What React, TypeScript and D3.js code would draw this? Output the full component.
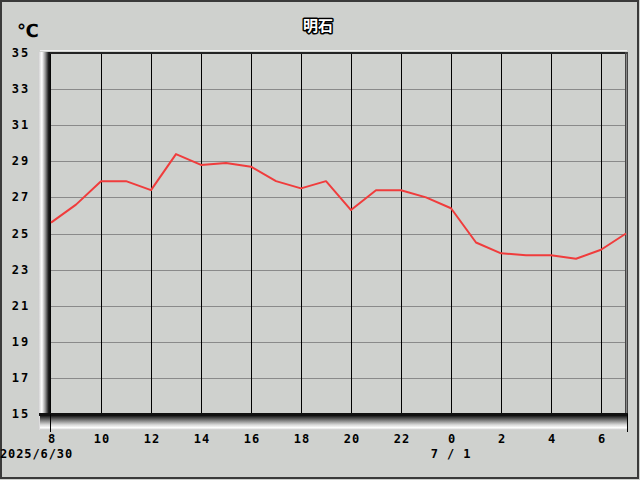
import React from "react";
import * as d3 from "d3";

const hours = [8, 9, 10, 11, 12, 13, 14, 15, 16, 17, 18, 19, 20, 21, 22, 23, 24, 25, 26, 27, 28, 29, 30, 31];
const temps = [25.6, 26.6, 27.9, 27.9, 27.4, 29.4, 28.8, 28.9, 28.7, 27.9, 27.5, 27.9, 26.3, 27.4, 27.4, 27.0, 26.4, 24.5, 23.9, 23.8, 23.8, 23.6, 24.1, 25.0];
const yTicks = [15, 17, 19, 21, 23, 25, 27, 29, 31, 33, 35];
const xTicks = [8, 10, 12, 14, 16, 18, 20, 22, 24, 26, 28, 30];
const xTickLabels = ["8", "10", "12", "14", "16", "18", "20", "22", "0", "2", "4", "6"];
const title = "明石";
const unit = "℃";
const dateLabels = [{ h: 8, text: "2025/6/30" }, { h: 24, text: "7 / 1" }];

const W = 640, H = 480;
const L = 51, R = 626, T = 53, B = 414;

export default function App() {
  const x = d3.scaleLinear().domain([8, 31]).range([L, R]);
  const y = d3.scaleLinear().domain([15, 35]).range([B, T]);
  const line = d3.line<number>().x((_, i) => x(hours[i])).y((d) => y(d));
  const bg = "#cfd1ce";
  const font = "'DejaVu Sans Mono', monospace";
  return (
    <svg width={W} height={H} style={{ position: "fixed", left: 0, top: 0 }} shapeRendering="crispEdges">
      <defs>
        <linearGradient id="lg" x1="0" x2="1" y1="0" y2="0">
          <stop offset="0" stopColor="#c8c8c8" />
          <stop offset="0.3" stopColor="#ffffff" />
          <stop offset="0.55" stopColor="#9a9a9a" />
          <stop offset="0.8" stopColor="#202020" />
          <stop offset="1" stopColor="#000000" />
        </linearGradient>
        <linearGradient id="bgd" x1="0" x2="0" y1="0" y2="1">
          <stop offset="0" stopColor="#000000" />
          <stop offset="0.12" stopColor="#303030" />
          <stop offset="0.4" stopColor="#8a8a8a" />
          <stop offset="0.65" stopColor="#d8d8d8" />
          <stop offset="0.85" stopColor="#ffffff" />
          <stop offset="1" stopColor="#c8c8c8" />
        </linearGradient>
      </defs>
      <rect x={0} y={0} width={W} height={H} fill={bg} />
      <rect x={1} y={1} width={W - 3} height={H - 3} fill="none" stroke="#3a3a3a" strokeWidth={2} />
      <line x1={40} x2={R + 1} y1={50.5} y2={50.5} stroke="#f0f0f0" />
      <rect x={38} y={52} width={13} height={378} fill="url(#lg)" />
      <rect x={40} y={415} width={R - 40 + 1} height={15} fill="url(#bgd)" />
      {yTicks.slice(1, -1).map((t) => (
        <line key={t} x1={L} x2={R} y1={Math.round(y(t)) + 0.5} y2={Math.round(y(t)) + 0.5} stroke="#8a8a8a" strokeWidth={1.5} />
      ))}
      {xTicks.slice(1).map((h) => (
        <line key={h} x1={Math.round(x(h)) + 0.5} x2={Math.round(x(h)) + 0.5} y1={T} y2={B} stroke="#000" strokeWidth={1} />
      ))}
      <rect x={L - 1} y={52} width={R - L + 3} height={2} fill="#222" />
      <rect x={R - 1} y={52} width={3} height={363} fill="#444" />
      <line x1={R + 0.5} x2={R + 0.5} y1={54} y2={414} stroke="#888" />
      <rect x={39} y={B - 1} width={R - 39 + 2} height={3} fill="#111" />
      <line x1={50.5} x2={50.5} y1={B} y2={432} stroke="#000" />
      <line x1={R + 1.5} x2={R + 1.5} y1={B} y2={432} stroke="#000" />
      <path d={line(temps) || ""} fill="none" stroke="#f03c3c" strokeWidth={2} shapeRendering="auto" strokeLinejoin="round" />
      {yTicks.map((t) => (
        <text key={t} x={21} y={y(t) + 4} textAnchor="middle" fontFamily={font} fontWeight="bold" fontSize={12} letterSpacing={2} fill="#000">
          {t}
        </text>
      ))}
      {xTicks.map((h, i) => (
        <text key={h} x={x(h) + 1} y={443} textAnchor="middle" fontFamily={font} fontWeight="bold" fontSize={12} letterSpacing={1} fill="#000">
          {xTickLabels[i]}
        </text>
      ))}
      {dateLabels.map((d, i) => (
        <text key={i} x={i === 0 ? 0 : x(d.h)} y={458} textAnchor={i === 0 ? "start" : "middle"} fontFamily={font} fontWeight="bold" fontSize={12} letterSpacing={0.9} fill="#000">
          {d.text}
        </text>
      ))}
      <text x={28} y={37} textAnchor="middle" fontFamily="'DejaVu Sans', sans-serif" fontWeight="bold" fontSize={18} fill="#000">
        {unit}
      </text>
      <text x={318} y={31} textAnchor="middle" fontFamily="'Noto Sans CJK JP', sans-serif" fontWeight="bold" fontSize={15} fill="#fff" stroke="#000" strokeWidth={3} paintOrder="stroke" strokeLinejoin="round">
        {title}
      </text>
    </svg>
  );
}
